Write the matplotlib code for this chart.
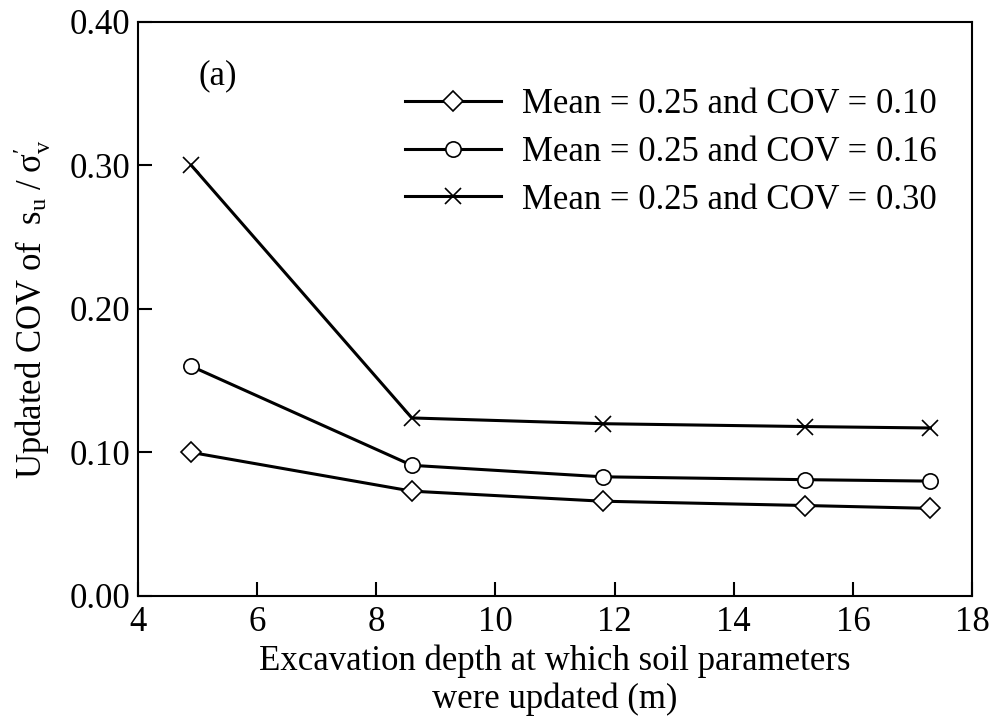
import numpy as np
import matplotlib
matplotlib.use('Agg')
import matplotlib.pyplot as plt

# Глубина выемки, на которой обновлялись параметры грунта (м)
depth = [4.9, 8.6, 11.8, 15.2, 17.3]

# Обновлённый COV для трёх исходных вариантов
cov_010 = [0.100, 0.073, 0.066, 0.063, 0.061]
cov_016 = [0.160, 0.091, 0.083, 0.081, 0.080]
cov_030 = [0.300, 0.124, 0.120, 0.118, 0.117]

labels = ['Mean = 0.25 and COV = 0.10',
          'Mean = 0.25 and COV = 0.16',
          'Mean = 0.25 and COV = 0.30']

plt.rcParams['font.family'] = ['Liberation Serif', 'DejaVu Serif']
plt.rcParams['mathtext.fontset'] = 'custom'
plt.rcParams['mathtext.rm'] = 'Liberation Serif'
plt.rcParams['mathtext.it'] = 'Liberation Serif'
plt.rcParams['font.size'] = 25

fig = plt.figure(figsize=(9.9, 7.25), dpi=100)
ax = fig.add_axes([0.139, 0.178, 0.843, 0.792])

ax.plot(depth, cov_010, color='black', lw=2.2, marker='D', ms=10,
        mfc='white', mec='black', mew=1.2, label=labels[0])
ax.plot(depth, cov_016, color='black', lw=2.2, marker='o', ms=11,
        mfc='white', mec='black', mew=1.2, label=labels[1])
ax.plot(depth, cov_030, color='black', lw=2.2, marker='x', ms=12,
        mec='black', mew=1.2, label=labels[2])

ax.set_xlim(4, 18)
ax.set_ylim(0, 0.40)
ax.set_xticks(np.arange(4, 19, 2))
ax.set_yticks(np.arange(0, 0.41, 0.1))
ax.set_yticklabels([f'{v:.2f}' for v in np.arange(0, 0.41, 0.1)])
ax.tick_params(direction='in', length=10, width=1.5, labelsize=25)
ax.tick_params(axis='x', pad=7)
ax.tick_params(axis='y', pad=5)
for s in ax.spines.values():
    s.set_linewidth(1.5)

ax.set_xlabel('Excavation depth at which soil parameters\nwere updated (m)',
              fontsize=25, linespacing=1.2, labelpad=4)
ax.set_ylabel(r"Updated COV of  $\mathrm{s_u\;/\;\sigma_v^{\prime}}$",
              fontsize=25, labelpad=12)

ax.text(5.35, 0.362, '(a)', fontsize=25, ha='center', va='center')

ax.legend(loc='upper right', bbox_to_anchor=(0.958, 0.885), frameon=False,
          handlelength=2.74, handletextpad=0.63, labelspacing=0.43,
          borderaxespad=0, borderpad=0, fontsize=25)

fig.savefig('out.png', dpi=100)
